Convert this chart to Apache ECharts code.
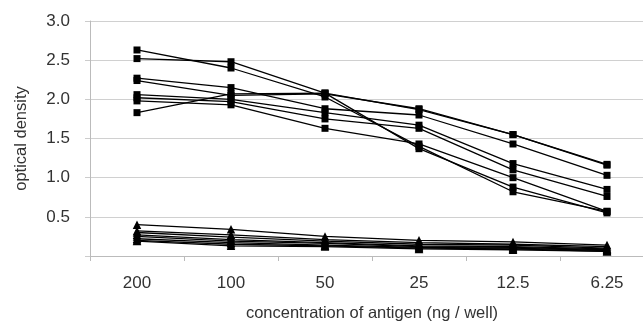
<!DOCTYPE html>
<html>
<head>
<meta charset="utf-8">
<script src="https://cdn.jsdelivr.net/npm/echarts@6/dist/echarts.min.js"></script>
<style>
  html, body { margin: 0; padding: 0; background: #fff; }
  #chart { width: 643px; height: 324px; }
</style>
</head>
<body>
<div id="chart"></div>
<script>
// concentration of antigen (ng / well)
var categories = ['200', '100', '50', '25', '12.5', '6.25'];

// square-marker samples
var sq1 = [2.63, 2.40, 2.03, 1.40, 0.82, 0.57];
var sq2 = [2.52, 2.48, 2.08, 1.37, 0.88, 0.55];
var sq3 = [2.27, 2.15, 1.88, 1.80, 1.43, 1.03];
var sq4 = [2.24, 2.05, 2.07, 1.88, 1.55, 1.17];
var sq5 = [2.06, 2.00, 1.83, 1.67, 1.18, 0.85];
var sq6 = [2.02, 1.97, 1.75, 1.63, 1.10, 0.76];
var sq7 = [1.98, 1.93, 1.63, 1.43, 1.00, 0.57];
var sq8 = [1.83, 2.07, 2.08, 1.87, 1.55, 1.16];

// triangle-marker samples
var tr1 = [0.40, 0.34, 0.25, 0.20, 0.18, 0.14];
var tr2 = [0.32, 0.27, 0.21, 0.17, 0.15, 0.12];
var tr3 = [0.30, 0.24, 0.19, 0.15, 0.14, 0.10];
var tr4 = [0.27, 0.21, 0.17, 0.13, 0.12, 0.09];
var tr5 = [0.25, 0.19, 0.16, 0.12, 0.11, 0.08];
var tr6 = [0.22, 0.17, 0.14, 0.11, 0.10, 0.07];
var tr7 = [0.20, 0.15, 0.13, 0.10, 0.09, 0.06];
var tr8 = [0.19, 0.13, 0.12, 0.09, 0.08, 0.06];

var yTicks = [0, 0.5, 1.0, 1.5, 2.0, 2.5, 3.0];

var squares = [sq1, sq2, sq3, sq4, sq5, sq6, sq7, sq8];
var triangles = [tr1, tr2, tr3, tr4, tr5, tr6, tr7, tr8];

function makeLine(data, symbol, size) {
    return {
        type: 'line',
        data: data,
        symbol: symbol,
        symbolSize: size,
        showAllSymbol: true,
        animation: false,
        lineStyle: { color: '#000', width: 1.3 },
        itemStyle: { color: '#000' },
        emphasis: { disabled: true }
    };
}

var series = [];
squares.forEach(function (d) { series.push(makeLine(d, 'rect', 7)); });
triangles.forEach(function (d) { series.push(makeLine(d, 'triangle', 8.5)); });

var chart = echarts.init(document.getElementById('chart'), null, { renderer: 'canvas' });
chart.setOption({
    backgroundColor: '#fff',
    animation: false,
    textStyle: { fontFamily: 'Liberation Sans, Arial, sans-serif' },
    grid: {
        left: 90,
        top: 21,
        right: -11,
        bottom: 68,
        containLabel: false,
        outerBoundsMode: 'none'
    },
    xAxis: {
        type: 'category',
        data: categories,
        boundaryGap: true,
        name: 'concentration of antigen (ng / well)',
        nameLocation: 'middle',
        nameGap: 49,
        nameTextStyle: { color: '#333', fontSize: 16.5 },
        axisLine: { lineStyle: { color: '#bbb', width: 1 } },
        axisTick: { show: true, length: 5, lineStyle: { color: '#bbb' } },
        axisLabel: { color: '#333', fontSize: 17, margin: 19 },
        splitLine: { show: false }
    },
    yAxis: {
        type: 'value',
        min: yTicks[0],
        max: yTicks[yTicks.length - 1],
        interval: 0.5,
        name: 'optical density',
        nameLocation: 'middle',
        nameGap: 60,
        nameRotate: 90,
        nameTextStyle: { color: '#333', fontSize: 16.5 },
        axisLine: { show: true, lineStyle: { color: '#bbb', width: 1 } },
        axisTick: { show: true, length: 5, lineStyle: { color: '#ccc' } },
        axisLabel: {
            color: '#333',
            fontSize: 17,
            margin: 20,
            formatter: function (v) { return v === 0 ? '' : v.toFixed(1); }
        },
        splitLine: { show: true, lineStyle: { color: '#d0d0d0', width: 1 } }
    },
    series: series
});
</script>
</body>
</html>
